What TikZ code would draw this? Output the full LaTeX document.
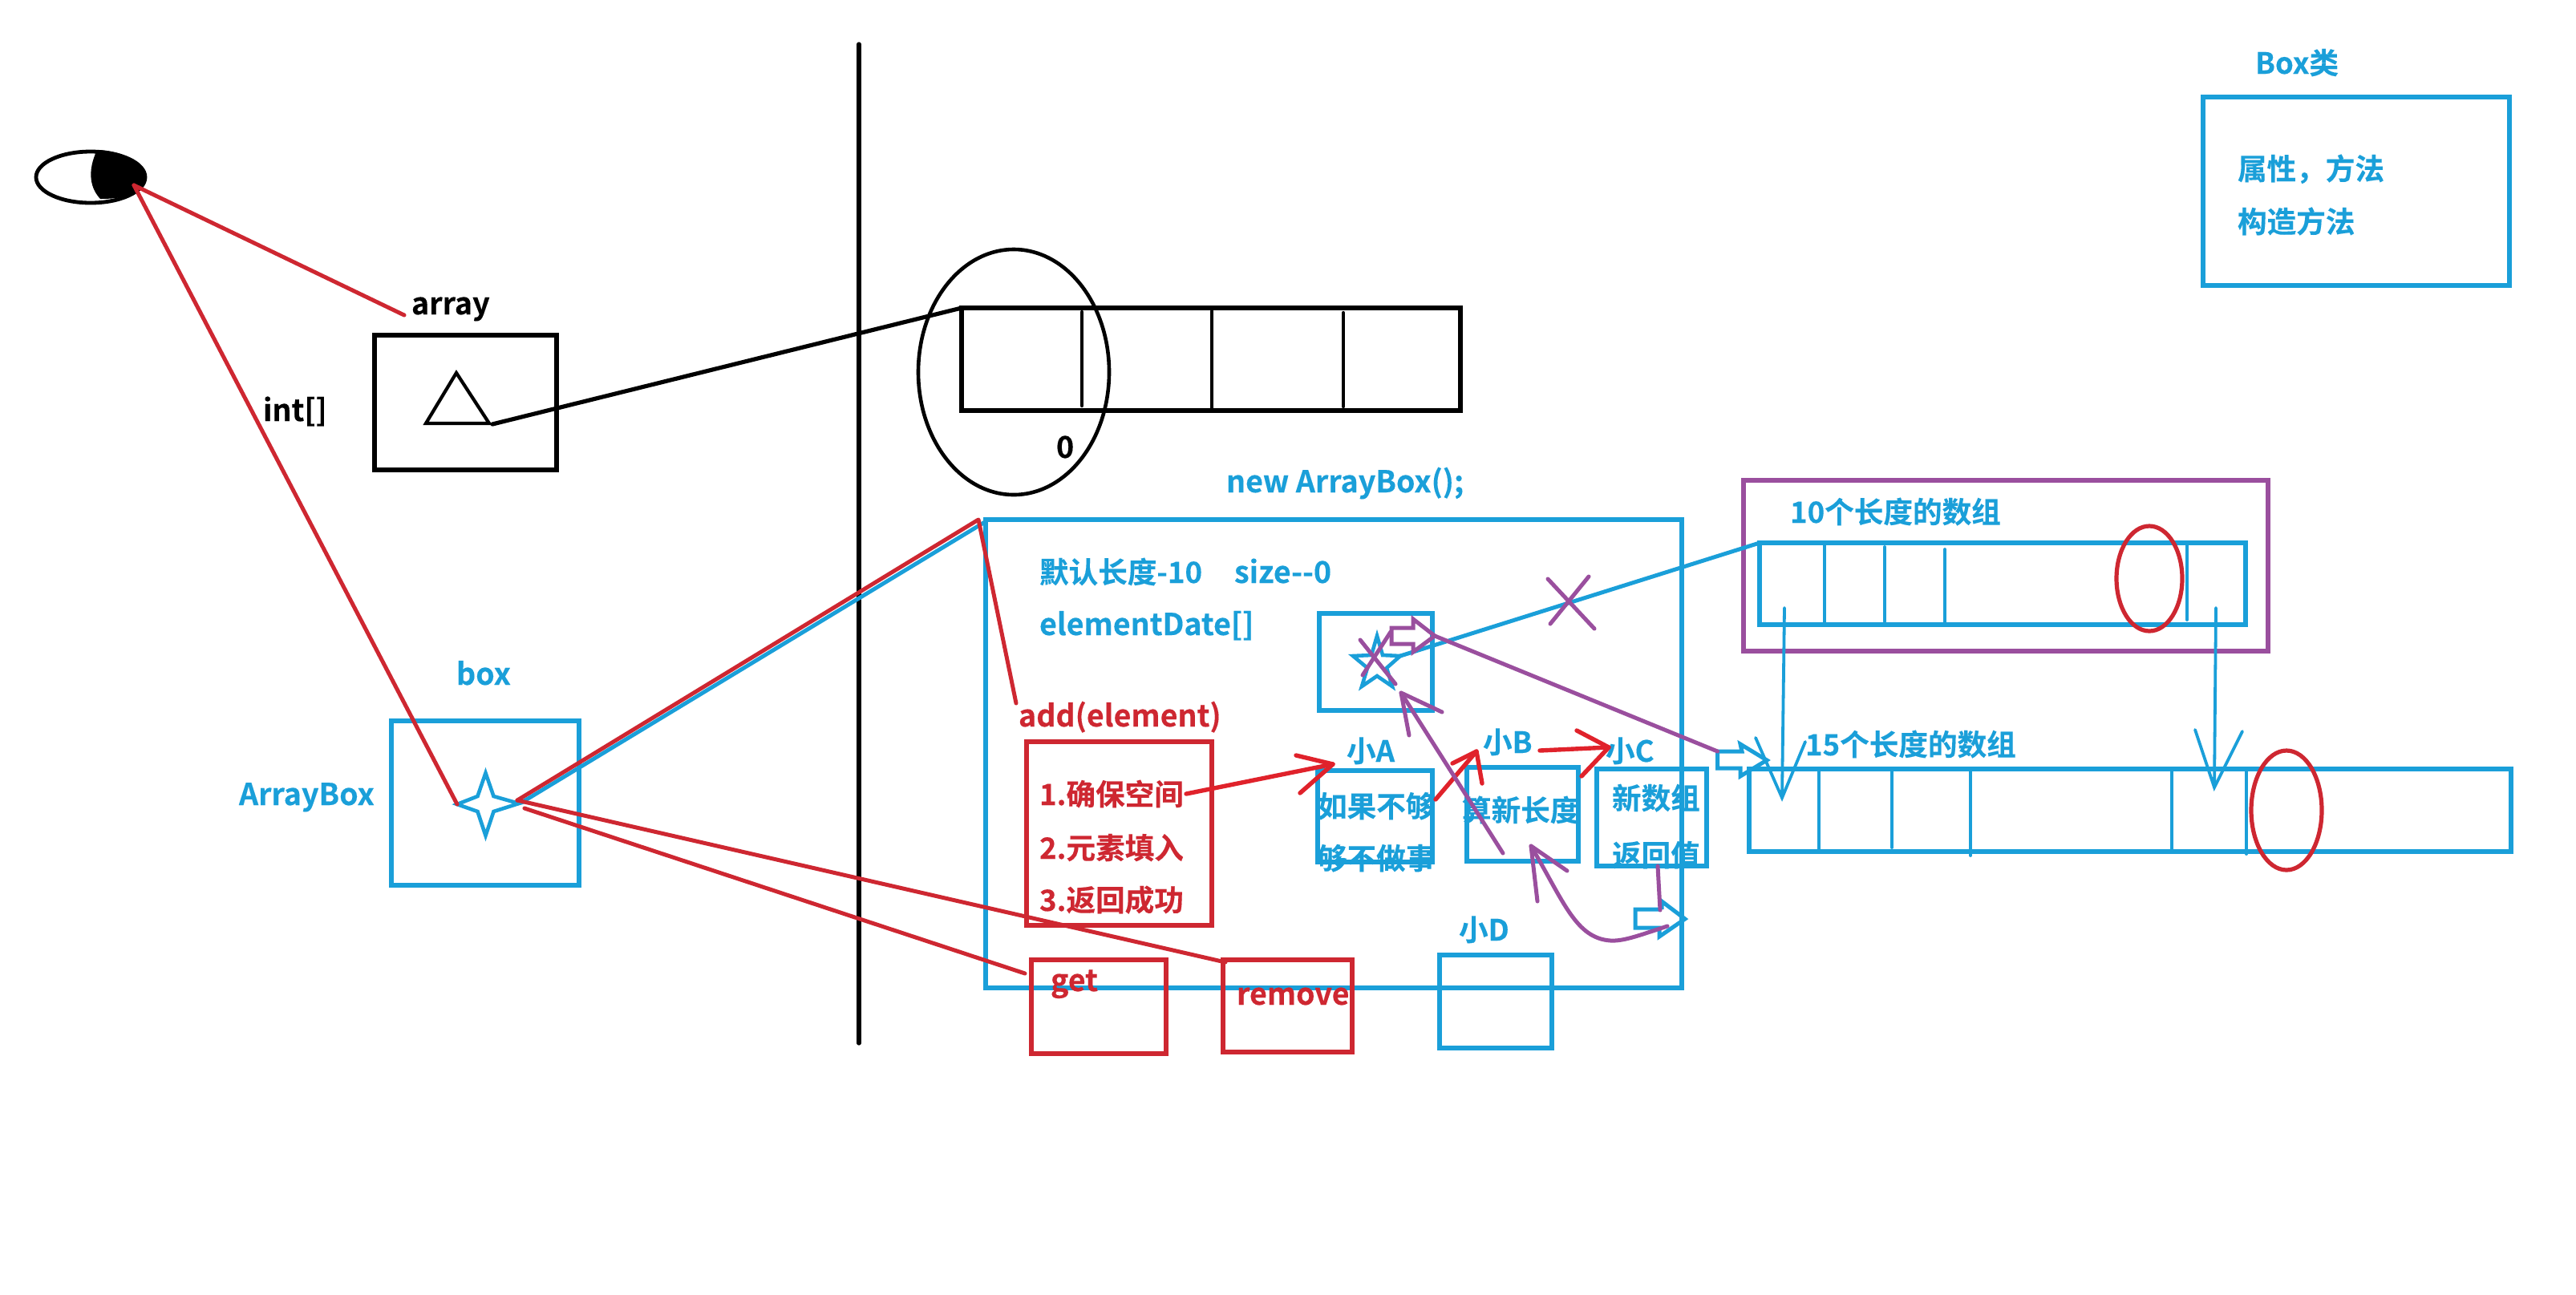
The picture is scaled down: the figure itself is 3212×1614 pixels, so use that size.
\documentclass[tikz,border=0pt]{standalone}
\usepackage{fontspec}
\setmainfont{Noto Sans CJK SC}[BoldFont={* Bold},BoldFeatures={FakeBold=0.25}]
\usetikzlibrary{shapes.geometric}
\definecolor{cblue}{HTML}{1A9FD9}
\definecolor{cred}{HTML}{CE2731}
\definecolor{cbred}{HTML}{E0222B}
\definecolor{cpur}{HTML}{9A4F9E}
\newcommand{\rnode}[6]{%
  \pgfmathsetmacro\rcx{(#3+#5)/2}\pgfmathsetmacro\rcy{(#4+#6)/2}%
  \pgfmathsetmacro\rw{(#5-#3)/2}\pgfmathsetmacro\rh{(#6-#4)/2}%
  \node[#1,minimum width=\rw pt,minimum height=\rh pt] (#2) at (\rcx,\rcy) {};}
\tikzset{
  x=0.5pt,y=-0.5pt,
  shp/.style={inner sep=0pt,outer sep=0pt,line width=2.6pt},
  bb/.style={shp,draw=black,rectangle},
  bbl/.style={shp,draw=cblue,rectangle},
  brd/.style={shp,draw=cred,rectangle},
  bpu/.style={shp,draw=cpur,rectangle},
  oval/.style={shp,draw=#1,ellipse},
  txt/.style={inner sep=0pt,outer sep=0pt,anchor=base west,font=\fontsize{18.3}{22}\selectfont\bfseries},
  ltn/.style={font=\fontsize{18.8}{22}\selectfont\bfseries},
  tbl/.style={txt,text=cblue},
  trd/.style={txt,text=cred},
  tbk/.style={txt,text=black},
  lk/.style={draw=black,line width=2.6pt,line cap=round},
  lkt/.style={draw=black,line width=2.2pt,line cap=round},
  lb/.style={draw=cblue,line width=2.5pt,line cap=round,line join=miter},
  lbt/.style={draw=cblue,line width=1.9pt,line cap=round},
  lr/.style={draw=cred,line width=2.5pt,line cap=round,line join=round},
  lrb/.style={draw=cbred,line width=2.7pt,line cap=round,line join=round},
  lp/.style={draw=cpur,line width=2.5pt,line cap=round,line join=round},
}
\begin{document}
\begin{tikzpicture}
\useasboundingbox[fill=white] (0,0) rectangle (3212,1614);

% eye
\node[oval=black,line width=2.4pt,minimum width=68pt,minimum height=32pt] (eye) at (113,221) {};
\fill[black] (121,187) .. controls (108,215) and (113,235) .. (125,248)
  .. controls (160,248) and (182,240) .. (182,221) .. controls (182,205) and (155,188) .. (121,187) -- cycle;
\coordinate (eyetip) at (167,231);

% divider
\coordinate (vtop) at (1071,55);
\coordinate (vbot) at (1071,1301);
\draw[lk] (vtop) -- (vbot);

% array side
\rnode{bb}{arrbox}{467}{418}{694}{586}
\draw[black,line width=2.1pt,line join=miter] (569,465) coordinate (triA) -- (531,528) coordinate (triB) -- (610,528) coordinate (triC) -- cycle;
\rnode{bb}{arr}{1199}{384}{1821}{512}
\foreach \n/\x/\a/\b in {d1/1349/389/506,d2/1511/388/512,d3/1675/390/507}{
  \coordinate (\n a) at (\x,\a); \coordinate (\n b) at (\x,\b);
  \draw[lkt] (\n a) -- (\n b);
}
\node[oval=black,line width=2.3pt,minimum width=119pt,minimum height=153pt] (circ) at (1264,464) {};
\coordinate (triOut) at (614,529);
\draw[lk] (triOut) -- (arr.north west);
\node[tbk,ltn] (tArray) at (513,392) {array};
\node[tbk,ltn] (tInt) at (328,525) {int[]};
\node[tbk,ltn] (tZero) at (1317,571) {0};

% Box class
\rnode{bbl}{cls}{2747}{121}{3129}{356}
\node[tbl] (tCls) at (2812,92) {Box类};
\node[tbl] (tCls1) at (2790,224) {属性，方法};
\node[tbl] (tCls2) at (2790,290) {构造方法};

% ArrayBox reference
\rnode{bbl}{boxr}{488}{899}{722}{1104}
\node[tbl,ltn] (tBox) at (569,854) {box};
\node[tbl,ltn] (tAB) at (298,1004) {ArrayBox};
\draw[cblue,line width=2.3pt,line join=miter]
  (605.5,964) -- (615.5,993) -- (647,1002) -- (615.5,1012) -- (605.5,1042) -- (595.5,1012) -- (570,1003) -- (595.5,993) -- cycle;

% big object box
\rnode{bbl}{obj}{1229}{648}{2097}{1232}
\node[tbl,ltn] (tNew) at (1529,614) {new ArrayBox();};
\node[tbl] (tDef) at (1296,727) {默认长度-10};
\node[tbl,ltn] (tSize) at (1539,727) {size-{}-0};
\node[tbl,ltn] (tElem) at (1296,792) {elementDate[]};

% inner boxes
\rnode{bbl}{ptr}{1645}{765}{1786}{886}
\draw[cblue,line width=2.3pt,line join=miter]
  (1717,793) -- (1724,817) -- (1746,818) coordinate (starR) -- (1729,833) -- (1736,856) -- (1717,843) -- (1698,856) -- (1705,833) -- (1687,818) -- (1710,817) -- cycle;
\rnode{bbl}{boxA}{1643}{961}{1786}{1075}
\rnode{bbl}{boxB}{1829}{957}{1968}{1074}
\rnode{bbl}{boxC}{1991}{959}{2128}{1080}
\rnode{bbl}{boxD}{1795}{1191}{1935}{1307}
\node[tbl] (tA) at (1679,950) {小A};
\node[tbl] (tB) at (1849,939) {小B};
\node[tbl] (tC) at (2002,950) {小C};
\node[tbl] (tD) at (1819,1173) {小D};
\node[tbl] (tA1) at (1643,1019) {如果不够};
\node[tbl] (tA2) at (1643,1084) {够不做事};
\node[tbl] (tB1) at (1823,1024) {算新长度};
\node[tbl] (tC1) at (2010,1009) {新数组};
\node[tbl] (tC2) at (2010,1080) {返回值};

% arrays on the right
\rnode{bpu}{pur}{2174}{599}{2828}{812}
\node[tbl] (t10) at (2232,652) {10个长度的数组};
\rnode{bbl}{arr10}{2194}{677}{2800}{779}
\foreach \n/\x/\a/\b in {s1/2275/677/779,s2/2350/682/775,s3/2425/685/779,s4/2727/677/773}{
  \coordinate (\n a) at (\x,\a); \coordinate (\n b) at (\x,\b);
  \draw[lbt] (\n a) -- (\n b);
}
\node[tbl] (t15) at (2251,942) {15个长度的数组};
\rnode{bbl}{arr15}{2181}{959}{3131}{1062}
\foreach \n/\x/\a/\b in {t1/2268/959/1062,t2/2359/959/1057,t3/2457/959/1067,t4/2708/959/1062,t5/2801/959/1065}{
  \coordinate (\n a) at (\x,\a); \coordinate (\n b) at (\x,\b);
  \draw[lbt] (\n a) -- (\n b);
}
\node[oval=cred,minimum width=41pt,minimum height=65.5pt] (ov10) at (2680,721.5) {};
\node[oval=cred,minimum width=44pt,minimum height=74.5pt] (ov15) at (2851,1010.5) {};

% blue copy arrows
\coordinate (cpA) at (2225,758); \coordinate (cpAt) at (2222,995);
\coordinate (cpAb) at (2189,920); \coordinate (cpAc) at (2251,925);
\draw[lbt] (cpA) -- (cpAt);
\draw[lbt] (cpAb) -- (cpAt) -- (cpAc);
\coordinate (cpB) at (2763,758); \coordinate (cpBt) at (2761,982);
\coordinate (cpBb) at (2737,910); \coordinate (cpBc) at (2796,912);
\draw[lbt] (cpB) -- (cpBt);
\draw[lbt] (cpBb) -- (cpBt) -- (cpBc);

% blue connectors
\coordinate (starBox) at (650,1001);
\coordinate (objTL) at (1228,651);
\draw[lb] (starBox) -- (objTL);
\draw[lb] (starR) -- (arr10.north west);

% blue block arrows
\draw[cblue,line width=2.5pt,line join=miter]
  (2141.5,937) coordinate (ba1) -- (2172,937) -- (2170,928) -- (2203,948) -- (2170,968) -- (2170,958) -- (2141.5,958) -- cycle;
\draw[cblue,line width=2.5pt,line join=miter]
  (2070,1134) -- (2039,1134) -- (2039,1157) -- (2069,1157) -- (2069,1168) -- (2101,1146) -- (2072,1124) -- (2072,1134);

% red things
\rnode{brd}{addbox}{1280}{925}{1511}{1154}
\rnode{brd}{getbox}{1286}{1197}{1454}{1314}
\rnode{brd}{rembox}{1525}{1197}{1686}{1312}
\node[trd,ltn] (tAdd) at (1270,906) {add(element)};
\node[trd] (t1) at (1296,1004) {1.确保空间};
\node[trd] (t2) at (1296,1071) {2.元素填入};
\node[trd] (t3) at (1296,1136) {3.返回成功};
\node[trd,ltn] (tGet) at (1310,1236) {get};
\node[trd,ltn] (tRem) at (1542,1253) {remove};

\coordinate (arrEnd) at (504,393);
\coordinate (starL) at (570,1003);
\draw[lr] (eyetip) -- (arrEnd);
\draw[lr] (eyetip) -- (starL);
\coordinate (boxRed) at (645,998);
\coordinate (objRed) at (1220,648);
\coordinate (addEnd) at (1267,877);
\draw[lr] (boxRed) -- (objRed) -- (addEnd);
\coordinate (remEnd) at (1528,1200);
\draw[lr] (boxRed) -- (remEnd);
\coordinate (getS) at (654,1008);
\coordinate (getEnd) at (1278,1214);
\draw[lr] (getS) -- (getEnd);

\coordinate (rA0) at (1479,990); \coordinate (rAt) at (1662,953);
\coordinate (rAb) at (1616,942); \coordinate (rAc) at (1621,989);
\draw[lrb] (rA0) -- (rAt); \draw[lrb] (rAb) -- (rAt) -- (rAc);
\coordinate (rB0) at (1790,997); \coordinate (rBt) at (1841,937);
\coordinate (rBb) at (1811,952); \coordinate (rBc) at (1848,977);
\draw[lrb] (rB0) -- (rBt); \draw[lrb] (rBb) -- (rBt) -- (rBc);
\coordinate (rC0) at (1920,936); \coordinate (rCt) at (2006,932);
\coordinate (rCb) at (1966,911); \coordinate (rCc) at (1972,968);
\draw[lrb] (rC0) -- (rCt); \draw[lrb] (rCb) -- (rCt) -- (rCc);

% purple things
\coordinate (xa1) at (1696,798); \coordinate (xa2) at (1740,853);
\coordinate (xb1) at (1699,842); \coordinate (xb2) at (1734,788);
\draw[lp] (xa1) -- (xa2); \draw[lp] (xb1) -- (xb2);
\coordinate (xc1) at (1933,778); \coordinate (xc2) at (1981,719);
\coordinate (xd1) at (1930,722); \coordinate (xd2) at (1988,784);
\draw[lp] (xc1) -- (xc2); \draw[lp] (xd1) -- (xd2);
\draw[lp,line join=miter] (1735,783) -- (1762,783) -- (1762,772) -- (1789,793) coordinate (pTip) -- (1762,813) -- (1762,803) -- (1735,803) -- cycle;
\draw[lp] (pTip) -- (ba1);
\coordinate (pA0) at (1874,1064); \coordinate (pAt) at (1747,864);
\coordinate (pAb) at (1757,917); \coordinate (pAc) at (1798,888);
\draw[lp] (pA0) -- (pAt); \draw[lp] (pAb) -- (pAt) -- (pAc);
\coordinate (pC0) at (2067,1080); \coordinate (pC1) at (2070,1135);
\draw[lp] (pC0) -- (pC1);
\coordinate (pD0) at (2079,1155); \coordinate (pDt) at (1909,1055);
\coordinate (pDb) at (1917,1124); \coordinate (pDc) at (1954,1086);
\draw[lp] (pD0) .. controls (2045,1166) and (2025,1174) .. (2008,1173) .. controls (1965,1170) and (1950,1125) .. (pDt);
\draw[lp] (pDb) -- (pDt) -- (pDc);
\end{tikzpicture}
\end{document}
